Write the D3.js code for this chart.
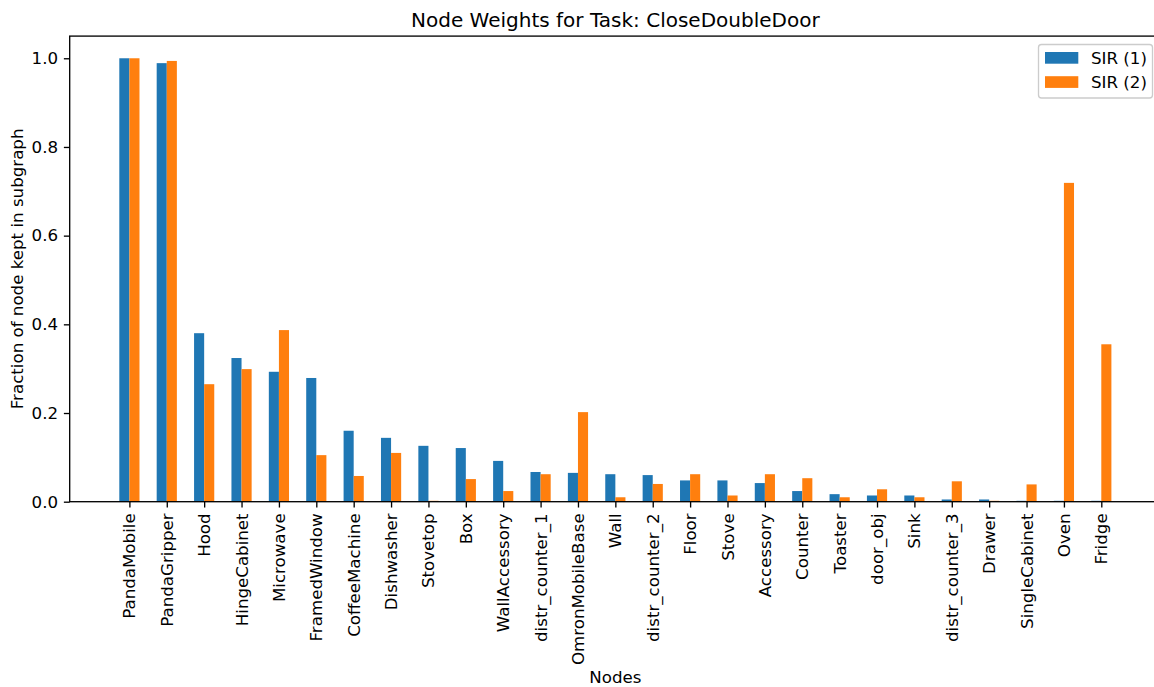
<!DOCTYPE html>
<html>
<head>
<meta charset="utf-8">
<script src="https://cdn.jsdelivr.net/npm/d3@7"></script>
<style>
  html, body { margin: 0; padding: 0; background: #fff; }
  svg { display: block; font-family: "DejaVu Sans", sans-serif; }
</style>
</head>
<body>
<svg id="chart" width="1154" height="687"></svg>
<script>
const categories = ["PandaMobile","PandaGripper","Hood","HingeCabinet","Microwave","FramedWindow","CoffeeMachine","Dishwasher","Stovetop","Box","WallAccessory","distr_counter_1","OmronMobileBase","Wall","distr_counter_2","Floor","Stove","Accessory","Counter","Toaster","door_obj","Sink","distr_counter_3","Drawer","SingleCabinet","Oven","Fridge"];
const sir1 = [1.0,0.989,0.380,0.324,0.293,0.279,0.160,0.144,0.126,0.121,0.092,0.067,0.065,0.062,0.060,0.048,0.048,0.042,0.024,0.017,0.014,0.014,0.005,0.005,0.002,0.002,0.002];
const sir2 = [1.0,0.994,0.265,0.299,0.387,0.105,0.058,0.110,0.002,0.051,0.024,0.062,0.202,0.010,0.040,0.062,0.014,0.062,0.053,0.010,0.028,0.010,0.046,0.002,0.039,0.719,0.355];
const seriesNames = ["SIR (1)", "SIR (2)"];
const seriesColors = ["#1f77b4", "#ff7f0e"];
const yTicks = [0.0, 0.2, 0.4, 0.6, 0.8, 1.0];
const titleText = "Node Weights for Task: CloseDoubleDoor";
const xLabel = "Nodes";
const yLabel = "Fraction of node kept in subgraph";

(function () {
const svg = d3.select("#chart");
const pL = 69.7, pR = 1161, pT = 36.1, pB = 501.7;
const barW = 0.27;
const n = categories.length;
const span = (n - 1) + 2 * barW;
const pad = 0.05 * span;
const x = d3.scaleLinear().domain([-barW - pad, (n - 1) + barW + pad]).range([pL, pR]);
const y = d3.scaleLinear().domain([0, 1.05]).range([pB, pT]);
const fs = 16.67;
const tk = 5.83;
const lw = 1.33;

const series = [sir1, sir2];
series.forEach((vals, s) => {
  svg.append("g").selectAll("rect").data(vals).join("rect")
    .attr("x", (d, i) => s === 0 ? x(i - barW) : x(i))
    .attr("width", x(barW) - x(0))
    .attr("y", d => y(d))
    .attr("height", d => y(0) - y(d))
    .attr("fill", seriesColors[s]);
});

const xAxis = d3.axisBottom(x).tickValues(d3.range(n)).tickFormat(i => categories[i]).tickSize(tk).tickPadding(tk);
const gx = svg.append("g").attr("transform", `translate(0,${pB})`).call(xAxis);
gx.select(".domain").remove();
gx.selectAll(".tick line").attr("stroke", "#000").attr("stroke-width", lw);
gx.selectAll(".tick text")
  .attr("font-size", fs).attr("fill", "#000")
  .attr("font-family", "DejaVu Sans")
  .attr("transform", "rotate(-90)")
  .attr("text-anchor", "end")
  .attr("x", -(tk * 2)).attr("y", 0).attr("dy", "0.33em");

const yAxis = d3.axisLeft(y).tickValues(yTicks).tickFormat(d3.format(".1f")).tickSize(tk).tickPadding(tk);
const gy = svg.append("g").attr("transform", `translate(${pL},0)`).call(yAxis);
gy.select(".domain").remove();
gy.selectAll(".tick line").attr("stroke", "#000").attr("stroke-width", lw);
gy.selectAll(".tick text").attr("font-size", fs).attr("fill", "#000").attr("font-family", "DejaVu Sans");

svg.append("rect").attr("x", pL).attr("y", pT).attr("width", pR - pL).attr("height", pB - pT)
  .attr("fill", "none").attr("stroke", "#000").attr("stroke-width", lw);

const cx = (pL + pR) / 2;
svg.append("text").attr("x", cx).attr("y", 26.5).attr("text-anchor", "middle")
  .attr("font-size", 20).attr("fill", "#000").text(titleText);
svg.append("text").attr("x", cx).attr("y", 683).attr("text-anchor", "middle")
  .attr("font-size", fs).attr("fill", "#000").text(xLabel);
svg.append("text").attr("transform", `translate(23,${(pT + pB) / 2}) rotate(-90)`)
  .attr("text-anchor", "middle").attr("font-size", fs).attr("fill", "#000").text(yLabel);

const lg = svg.append("g");
lg.append("rect").attr("x", 1038.5).attr("y", 44.5).attr("width", 114).attr("height", 53.5)
  .attr("rx", 3).attr("fill", "#fff").attr("fill-opacity", 0.8).attr("stroke", "#cccccc").attr("stroke-width", lw);
seriesNames.forEach((name, i) => {
  const yy = 57.8 + i * 24.2;
  lg.append("rect").attr("x", 1045).attr("y", yy - 5.8).attr("width", 33.3).attr("height", 11.7).attr("fill", seriesColors[i]);
  lg.append("text").attr("x", 1091).attr("y", yy).attr("dy", "0.35em").attr("font-size", fs).attr("fill", "#000").text(name);
});
})();
</script>
</body>
</html>
